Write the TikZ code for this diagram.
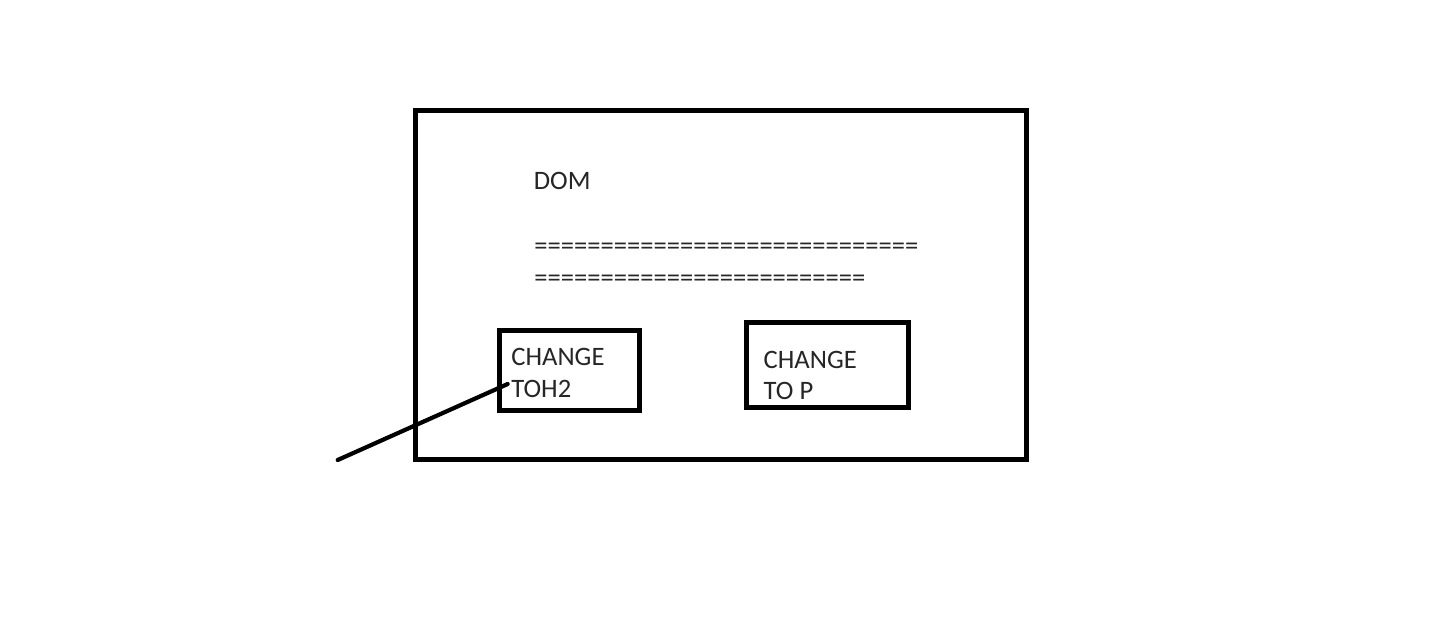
\documentclass[tikz,border=0pt]{standalone}
\usepackage{fontspec}
\setmainfont{Carlito}
\usetikzlibrary{calc}
\definecolor{textgray}{RGB}{38,38,38}
\tikzset{
  frame/.style={draw=black, line width=5pt, inner sep=0pt, outer sep=0pt},
  label/.style={inner sep=0pt, outer sep=0pt, align=left, anchor=north west,
    text=textgray, font=\fontsize{26.6pt}{31.5pt}\selectfont},
  conn/.style={draw=black, line width=4.2pt, line cap=round}
}
\begin{document}
\begin{tikzpicture}[x=1pt,y=-1pt]
\useasboundingbox[fill=white] (0,0) rectangle (1443,633);
% outer frame
\node[frame, minimum width=610.7pt, minimum height=348.5pt] (outer) at (721.15,284.75) {};
% inner boxes
\node[frame, minimum width=139.3pt, minimum height=80.5pt] (b1) at (569.35,370.25) {};
\node[frame, minimum width=161.3pt, minimum height=84.5pt] (b2) at (827.35,364.75) {};
% texts
\node[label] (dom) at (533.8,172.7) {DOM};
\node[label, font=\fontsize{26.6pt}{32.2pt}\selectfont] (rules) at (534.3,243.2) {=============================\\=========================};
\node[label] (t1) at (511.4,348.3) {CHANGE\\TOH2};
\node[label, font=\fontsize{26.6pt}{30.8pt}\selectfont] (t2) at (763.7,351.7) {CHANGE\\TO P};
% connector
\coordinate (tail) at (337.7,460);
\coordinate (tip) at ($(b1.west)+(8,13.75)$);
\draw[conn] (tail) -- (tip);
\end{tikzpicture}
\end{document}
